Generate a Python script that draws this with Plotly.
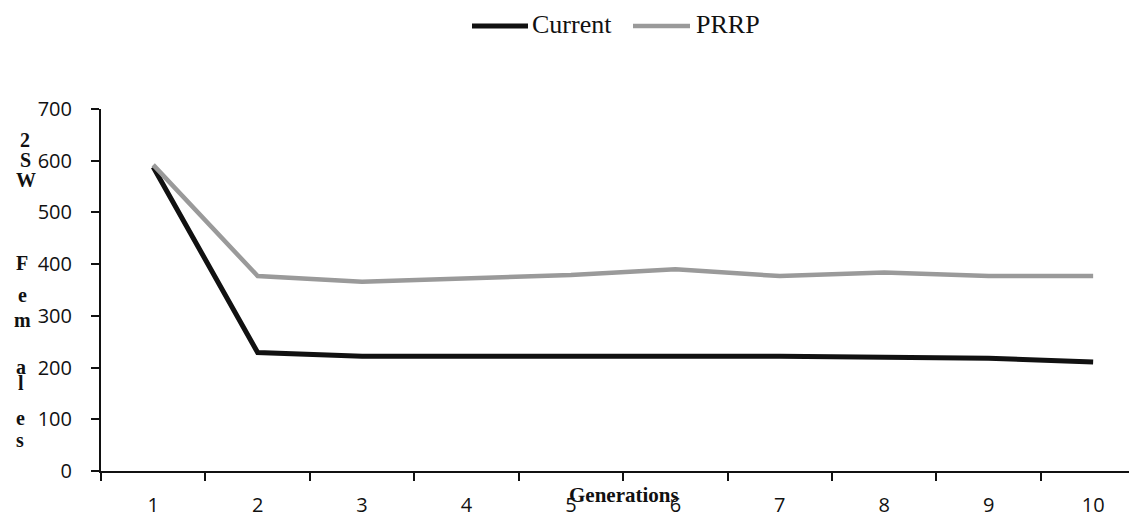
import plotly.graph_objects as go

# ---- data ----
generations = ["1", "2", "3", "4", "5", "6", "7", "8", "9", "10"]
current = [588, 229, 222, 222, 224, 223, 222, 220, 218, 211]
prrp = [592, 377, 366, 373, 379, 390, 377, 384, 377, 377]
y_ticks = [0, 100, 200, 300, 400, 500, 600, 700]
series_names = ["Current", "PRRP"]
ytitle_letters = ["2", "S", "W", "F", "e", "m", "a", "l", "e", "s"]

# ---- layout geometry ----
# The page body has an 8px default margin, so the figure is drawn 8px in.
OFF = 8
PAGE_W, PAGE_H = 1137, 517
W, H = PAGE_W - OFF, PAGE_H - OFF
AX_LEFT, AX_TOP, AX_BOTTOM = 101, 109, 471   # page pixels of the plot area
L, T = AX_LEFT - OFF, AX_TOP - OFF
B = PAGE_H - AX_BOTTOM
R = 0
PW, PH = W - L - R, H - T - B


def px(x):
    return (x - AX_LEFT) / PW


def py(y):
    return (AX_BOTTOM - y) / PH


fig = go.Figure()
fig.add_trace(go.Scatter(x=generations, y=current, mode="lines", name=series_names[0],
                         line=dict(color="#111111", width=5), showlegend=False))
fig.add_trace(go.Scatter(x=generations, y=prrp, mode="lines", name=series_names[1],
                         line=dict(color="#9a9a9a", width=4.5), showlegend=False))

# custom legend (long lines like the original)
legend_items = [(series_names[0], "#111111", 5, 472, 528, 530),
                (series_names[1], "#9a9a9a", 4.5, 633, 690, 694)]
for name, col, w, x0, x1, tx in legend_items:
    fig.add_shape(type="line", xref="paper", yref="paper", x0=px(x0), x1=px(x1),
                  y0=py(26), y1=py(26), line=dict(color=col, width=w))
    fig.add_annotation(text=name, xref="paper", yref="paper", x=px(tx), y=py(25),
                       xanchor="left", yanchor="middle", showarrow=False,
                       font=dict(family="Liberation Serif", size=26, color="#111"))

# stacked y title letters
letter_pos = [(25, 140), (25, 160), (26, 180), (22, 263), (22, 295), (22, 320),
              (21, 367), (21, 383), (20, 418), (20, 440)]
for ch, (lx, ly) in zip(ytitle_letters, letter_pos):
    fig.add_annotation(text=f"<b>{ch}</b>", xref="paper", yref="paper", x=px(lx), y=py(ly),
                       xanchor="center", yanchor="middle", showarrow=False,
                       font=dict(family="Liberation Serif", size=20, color="#111"))

# x title
fig.add_annotation(text="<b>Generations</b>", xref="paper", yref="paper", x=px(624), y=py(495),
                   xanchor="center", yanchor="middle", showarrow=False,
                   font=dict(family="Liberation Serif", size=21, color="#111"))

fig.update_layout(
    width=W, height=H,
    margin=dict(l=L, r=R, t=T, b=B, pad=0),
    paper_bgcolor="white", plot_bgcolor="white",
    showlegend=False,
)
fig.update_xaxes(
    type="category", range=[-0.5, 9.42], showgrid=False, zeroline=False,
    showline=True, linecolor="#111", linewidth=2,
    ticks="outside", tickson="boundaries", ticklen=8, tickwidth=2, tickcolor="#111",
    tickfont=dict(family="Open Sans", size=20, color="#111"),
    ticklabelstandoff=15,
)
fig.update_yaxes(
    range=[0, 700], tickvals=y_ticks, showgrid=False, zeroline=False,
    showline=True, linecolor="#111", linewidth=2,
    ticks="outside", ticklen=8, tickwidth=2, tickcolor="#111",
    tickfont=dict(family="Open Sans", size=20, color="#111"),
    ticklabelstandoff=15,
)

fig.write_html("out.html")
